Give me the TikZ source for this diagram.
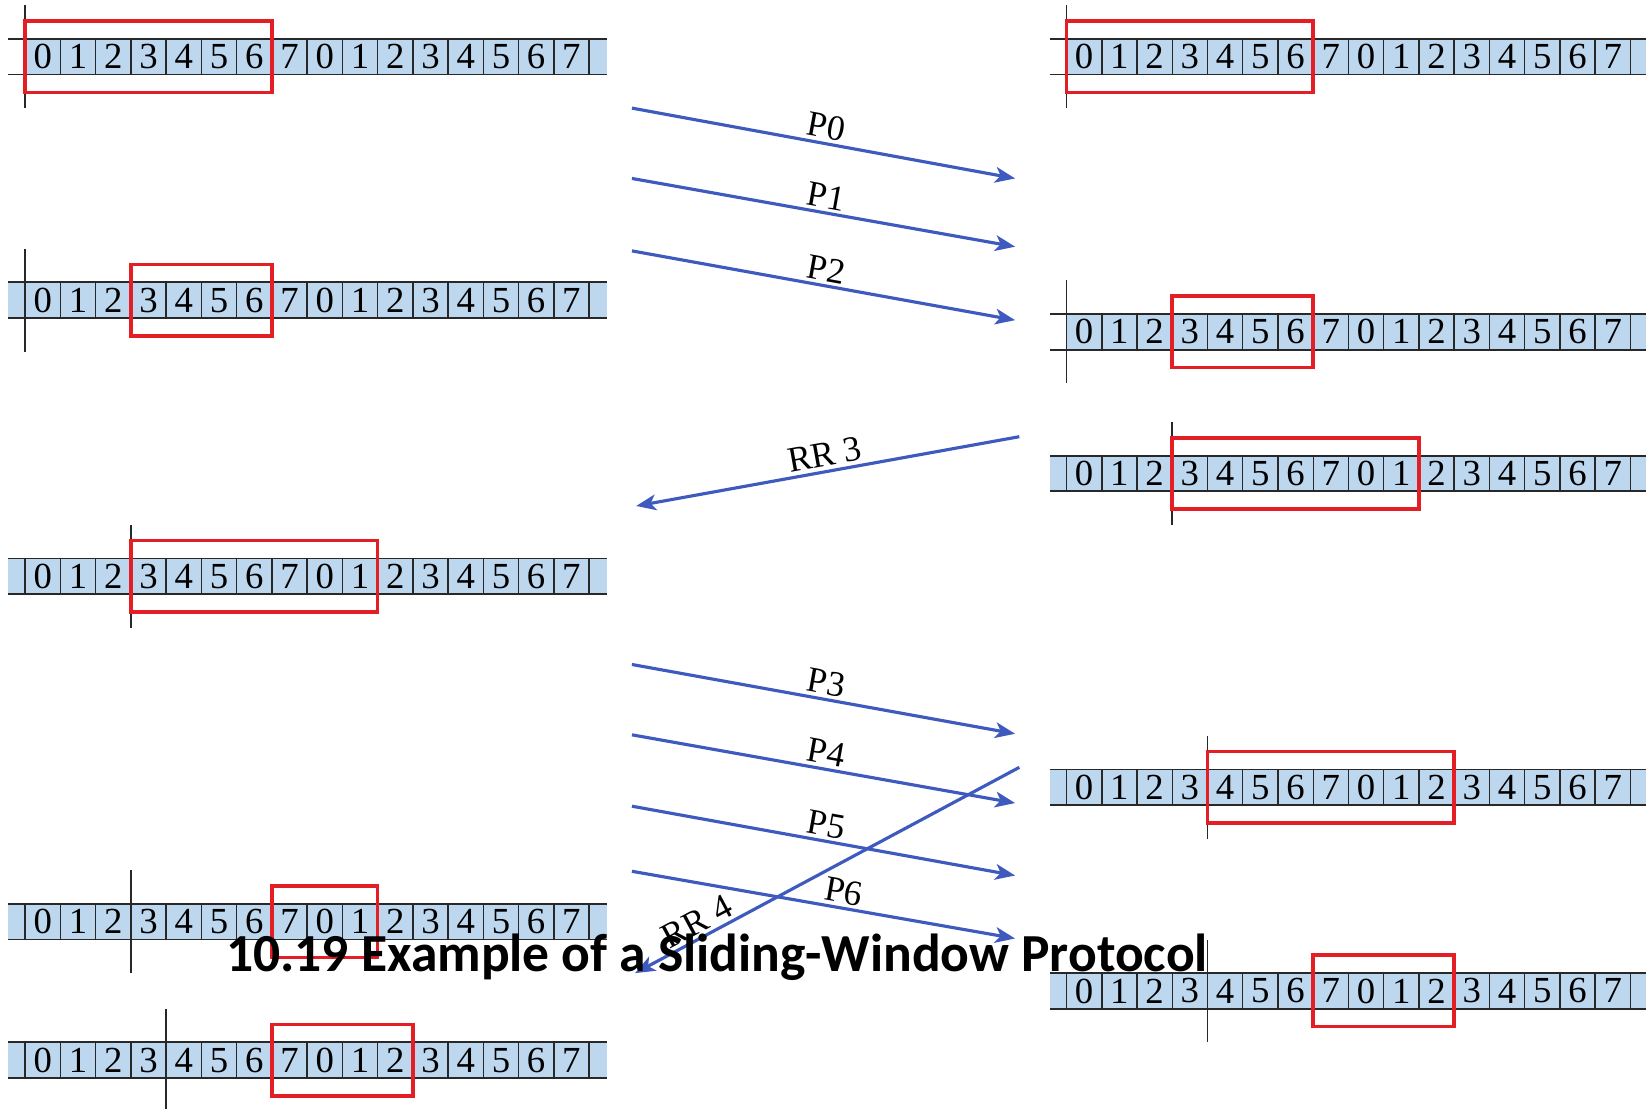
\documentclass[tikz,border=0pt]{standalone}
\usepackage{fontspec}
\setmainfont{Liberation Serif}
\newfontfamily\captionfont{Carlito}
\usetikzlibrary{arrows.meta}

\definecolor{cellblue}{RGB}{189,215,238}
\definecolor{winred}{RGB}{227,30,36}
\definecolor{msgblue}{RGB}{63,90,190}
\definecolor{rulegray}{RGB}{40,40,40}

\tikzset{
  digit/.style={font=\fontsize{35}{35}\selectfont, inner sep=0pt},
  stripline/.style={draw=rulegray, line width=1.8pt},
  cellline/.style={draw=rulegray, line width=1.4pt},
  barline/.style={draw=rulegray, line width=1.7pt},
  window/.style={draw=winred, line width=3.5pt},
  msg/.style={draw=msgblue, line width=3pt, -{Stealth[length=19pt,width=15pt,inset=5pt]}},
  msglabel/.style={font=\fontsize{34}{34}\selectfont, sloped, above, inner sep=3pt, text=black},
  heading/.style={font=\captionfont\bfseries\fontsize{51}{51}\selectfont, inner sep=0pt},
}

\def\cw{33.57}
% #1 name, #2 x of first cell edge, #3 centre y, #4 edge with the vertical bar,
% #5 first cell in the window, #6 edge closing the window, #7 shaded part left of the first edge
\newcommand\seqstrip[7]{%
  \fill[cellblue] ({#2-#7},{#3-17}) rectangle ({#2+16*\cw+17},{#3+17});
  \draw[stripline] ({#2-16},{#3-17}) -- ({#2+16*\cw+17},{#3-17});
  \draw[stripline] ({#2-16},{#3+17}) -- ({#2+16*\cw+17},{#3+17});
  \foreach \k in {0,...,16} \draw[cellline] ({#2+\k*\cw},{#3-17}) -- ({#2+\k*\cw},{#3+17});
  \foreach \k in {0,...,15} {%
    \pgfmathtruncatemacro\seqdigit{mod(\k,8)}
    \node[digit] (#1-\k) at ({#2+(\k+0.5)*\cw},{#3}) {\seqdigit};
  }
  \draw[barline] ({#2+#4*\cw},{#3-49}) -- ({#2+#4*\cw},{#3+49});
  \draw[window] ({#2+#5*\cw},{#3-34}) rectangle ({#2+#6*\cw},{#3+34});
}

\begin{document}
\begin{tikzpicture}[x=1pt,y=-1pt]
\useasboundingbox (0,0) rectangle (1568,1056);

% sender side
\seqstrip{sA}{24}{54}{0}{0}{7}{0}
\seqstrip{sB}{24}{286}{0}{3}{7}{16}
\seqstrip{sC}{24}{549}{3}{3}{10}{16}
\seqstrip{sD}{24}{878}{3}{7}{10}{16}
\seqstrip{sE}{24}{1010}{4}{7}{11}{16}

% receiver side
\seqstrip{rA}{1016}{54}{0}{0}{7}{0}
\seqstrip{rB}{1016}{316}{0}{3}{7}{0}
\seqstrip{rC}{1016}{451}{3}{3}{10}{16}
\seqstrip{rD}{1016}{750}{4}{4}{11}{16}
\seqstrip{rE}{1016}{944}{4}{7}{11}{16}

% message end points
\coordinate (p0s) at (602,103);  \coordinate (p0e) at (967,170);
\coordinate (p1s) at (602,170);  \coordinate (p1e) at (967,235);
\coordinate (p2s) at (602,239);  \coordinate (p2e) at (967,305);
\coordinate (rr3s) at (971,416); \coordinate (rr3e) at (606,482);
\coordinate (p3s) at (602,633);  \coordinate (p3e) at (967,699);
\coordinate (p4s) at (602,700);  \coordinate (p4e) at (967,765);
\coordinate (p5s) at (602,768);  \coordinate (p5e) at (967,834);
\coordinate (p6s) at (602,830);  \coordinate (p6e) at (967,894);
\coordinate (rr4s) at (971,731); \coordinate (rr4e) at (605,927);

\draw[msg] (p0s) -- node[msglabel] (lp0) {P0} (p0e);
\draw[msg] (p1s) -- node[msglabel] (lp1) {P1} (p1e);
\draw[msg] (p2s) -- node[msglabel] (lp2) {P2} (p2e);
\draw[msg] (rr3s) -- node[msglabel, pos=0.5] (lrr3) {RR 3} (rr3e);
\draw[msg] (p3s) -- node[msglabel] (lp3) {P3} (p3e);
\draw[msg] (p4s) -- node[msglabel] (lp4) {P4} (p4e);
\draw[msg] (p5s) -- node[msglabel] (lp5) {P5} (p5e);
\draw[msg] (p6s) -- node[msglabel, pos=0.545] (lp6) {P6} (p6e);
\draw[msg] (rr4s) -- node[msglabel, pos=0.82] (lrr4) {RR 4} (rr4e);

\node[heading, anchor=base] (title) at (683,925) {10.19 Example of a Sliding-Window Protocol};
\end{tikzpicture}
\end{document}
